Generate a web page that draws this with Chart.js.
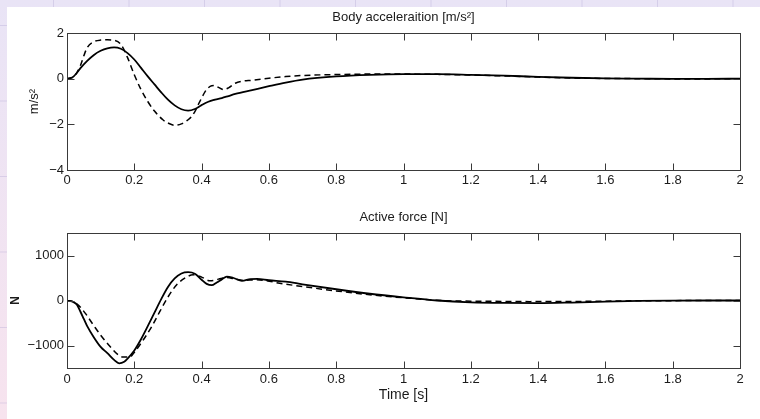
<!DOCTYPE html>
<html>
<head>
<meta charset="utf-8">
<script src="https://cdn.jsdelivr.net/npm/chart.js@4.4.1/dist/chart.umd.min.js"></script>
<style>
  html, body { margin: 0; padding: 0; }
  body {
    width: 760px; height: 419px; position: relative; overflow: hidden;
    background-image:
      linear-gradient(90deg, rgba(175,165,210,0.35) 1px, transparent 1px),
      linear-gradient(rgba(175,165,210,0.35) 1px, transparent 1px),
      linear-gradient(#e9e4f6, #f7e3ee);
    background-size: 75.5px 75.5px, 75.5px 75.5px, 100% 100%;
    background-position: 53px 0, 0 25px, 0 0;
  }
  #panel { position: absolute; left: 7px; top: 7px; width: 753px; height: 412px; background: #fff; }
  canvas { position: absolute; left: 0; }
</style>
</head>
<body>
<div id="panel"></div>
<canvas id="c1" width="760" height="200" style="top:0;width:760px;height:200px"></canvas>
<canvas id="c2" width="760" height="219" style="top:200px;width:760px;height:219px"></canvas>
<script>
// ---------- Data ----------
const accelSolidTime = [0, 0.01, 0.02, 0.03, 0.04, 0.06, 0.08, 0.1, 0.12, 0.14, 0.16, 0.18, 0.2, 0.22, 0.24, 0.26, 0.28, 0.3, 0.32, 0.34, 0.36, 0.38, 0.4, 0.42, 0.44, 0.46, 0.48, 0.5, 0.55, 0.6, 0.65, 0.7, 0.8, 0.9, 1.0, 1.1, 1.2, 1.3, 1.4, 1.5, 1.6, 1.7, 1.8, 1.9, 2.0];
const accelSolid     = [0, 0.02, 0.1, 0.27, 0.46, 0.78, 1.04, 1.22, 1.33, 1.37, 1.31, 1.12, 0.84, 0.47, 0.1, -0.25, -0.6, -0.92, -1.17, -1.34, -1.4, -1.33, -1.16, -1.01, -0.92, -0.85, -0.76, -0.67, -0.5, -0.33, -0.17, -0.04, 0.1, 0.17, 0.2, 0.2, 0.17, 0.13, 0.08, 0.04, 0.01, 0, -0.01, -0.01, 0];

const accelDashedTime = [0, 0.02, 0.03, 0.04, 0.05, 0.06, 0.08, 0.1, 0.12, 0.14, 0.16, 0.18, 0.2, 0.22, 0.24, 0.26, 0.285, 0.3, 0.32, 0.34, 0.36, 0.37, 0.38, 0.39, 0.4, 0.41, 0.42, 0.43, 0.44, 0.45, 0.465, 0.48, 0.5, 0.52, 0.55, 0.6, 0.65, 0.7, 0.8, 0.9, 1.0, 1.1, 1.2, 1.3, 1.4, 1.5, 1.6, 1.7, 1.8, 1.9, 2.0];
const accelDashed     = [0, 0.08, 0.28, 0.58, 1.0, 1.36, 1.62, 1.69, 1.7, 1.68, 1.5, 0.92, 0.17, -0.48, -1.0, -1.42, -1.8, -1.94, -2.04, -1.98, -1.8, -1.66, -1.44, -1.14, -0.85, -0.58, -0.4, -0.31, -0.3, -0.38, -0.48, -0.4, -0.2, -0.11, -0.07, 0.02, 0.09, 0.14, 0.18, 0.2, 0.2, 0.19, 0.16, 0.12, 0.07, 0.03, 0.01, 0, -0.01, -0.01, 0];

const forceSolidTime = [0, 0.02, 0.03, 0.04, 0.05, 0.06, 0.08, 0.1, 0.12, 0.14, 0.155, 0.17, 0.18, 0.2, 0.22, 0.24, 0.26, 0.28, 0.3, 0.32, 0.34, 0.36, 0.38, 0.4, 0.415, 0.43, 0.445, 0.46, 0.475, 0.495, 0.52, 0.545, 0.565, 0.6, 0.65, 0.7, 0.8, 0.9, 1.0, 1.1, 1.2, 1.3, 1.4, 1.5, 1.6, 1.7, 1.8, 1.9, 2.0];
const forceSolid     = [0, -40, -100, -250, -410, -570, -820, -1030, -1170, -1320, -1395, -1360, -1290, -1110, -860, -570, -270, 30, 300, 490, 600, 630, 595, 460, 370, 340, 400, 470, 530, 500, 437, 475, 480, 450, 420, 360, 250, 150, 70, 0, -40, -55, -58, -45, -25, -10, -3, 0, 0];

const forceDashedTime = [0, 0.02, 0.03, 0.04, 0.054, 0.078, 0.103, 0.128, 0.152, 0.167, 0.186, 0.202, 0.227, 0.252, 0.276, 0.301, 0.326, 0.35, 0.375, 0.4, 0.425, 0.45, 0.475, 0.5, 0.52, 0.564, 0.643, 0.79, 0.93, 1.03, 1.128, 1.227, 1.376, 1.525, 1.673, 1.85, 2.0];
const forceDashed     = [0, -30, -80, -150, -280, -540, -800, -1022, -1206, -1258, -1258, -1132, -873, -577, -244, 89, 349, 497, 571, 520, 437, 475, 510, 475, 450, 460, 370, 222, 105, 44, -7, -15, -25, -20, -8, -2, 0];

const xTicks      = [0, 0.2, 0.4, 0.6, 0.8, 1, 1.2, 1.4, 1.6, 1.8, 2];
const xTickLabels = ['0', '0.2', '0.4', '0.6', '0.8', '1', '1.2', '1.4', '1.6', '1.8', '2'];
const accelYTicks      = [-4, -2, 0, 2];
const accelYTickLabels = ['\u22124', '\u22122', '0', '2'];
const forceYTicks      = [-1000, 0, 1000];
const forceYTickLabels = ['\u22121000', '0', '1000'];

// ---------- Helpers ----------
const FONT = "'Liberation Sans', Arial, sans-serif";
const TXT = '#1b1b1b';
const pts = (ts, vs) => ts.map((t, i) => ({ x: t, y: vs[i] }));

const frame = {
  id: 'frame',
  afterDatasetsDraw(chart) {
    const { ctx, chartArea: a } = chart;
    const xs = chart.scales.x, ys = chart.scales.y;
    const L = Math.round(a.left) + 0.5, R = Math.round(a.right) + 0.5;
    const T = Math.round(a.top) + 0.5, B = Math.round(a.bottom) + 0.5;
    const len = 7;
    ctx.save();
    ctx.strokeStyle = '#3a3a3a';
    ctx.lineWidth = 1;
    ctx.beginPath();
    xs.ticks.forEach(t => {
      const p = Math.round(xs.getPixelForValue(t.value)) + 0.5;
      ctx.moveTo(p, B); ctx.lineTo(p, B - len);
      ctx.moveTo(p, T); ctx.lineTo(p, T + len);
    });
    ys.ticks.forEach(t => {
      const p = Math.round(ys.getPixelForValue(t.value)) + 0.5;
      ctx.moveTo(L, p); ctx.lineTo(L + len, p);
      ctx.moveTo(R, p); ctx.lineTo(R - len, p);
    });
    ctx.stroke();
    ctx.strokeRect(L, T, R - L, B - T);
    ctx.restore();
  }
};

function makeChart(canvas, cfg) {
  return new Chart(canvas, {
    type: 'line',
    data: {
      datasets: [
        { data: cfg.solid, borderColor: '#000', borderWidth: 1.8, pointRadius: 0, cubicInterpolationMode: 'monotone', fill: false },
        { data: cfg.dashed, borderColor: '#000', borderWidth: 1.5, borderDash: [6, 4], pointRadius: 0, cubicInterpolationMode: 'monotone', fill: false }
      ]
    },
    options: {
      responsive: false,
      animation: false,
      devicePixelRatio: 1,
      layout: { padding: { left: 0, right: 20, top: 0, bottom: 0 } },
      plugins: {
        legend: { display: false },
        tooltip: { enabled: false },
        title: {
          display: true, text: cfg.title, color: TXT, fullSize: false,
          font: { family: FONT, size: 13, weight: 'normal' },
          padding: { top: 9.7, bottom: 7.7 }
        }
      },
      scales: {
        x: {
          type: 'linear', min: 0, max: 2,
          grid: { display: false, drawTicks: false },
          border: { display: false },
          afterBuildTicks: s => { s.ticks = xTicks.map(v => ({ value: v })); },
          ticks: {
            autoSkip: false, maxRotation: 0, padding: cfg.xPad, color: TXT,
            font: { family: FONT, size: 13 },
            callback: (v) => xTickLabels[xTicks.indexOf(v)]
          },
          title: cfg.xTitle ? {
            display: true, text: cfg.xTitle, color: TXT,
            font: { family: FONT, size: 14 },
            padding: { top: 0, bottom: 15.6 }
          } : { display: false },
          afterFit: s => { s.height = cfg.xHeight; }
        },
        y: {
          type: 'linear', min: cfg.yMin, max: cfg.yMax,
          grid: { display: false, drawTicks: false },
          border: { display: false },
          afterBuildTicks: s => { s.ticks = cfg.yTicks.map(v => ({ value: v })); },
          ticks: {
            autoSkip: false, padding: 3, color: TXT,
            font: { family: FONT, size: 13 },
            callback: (v) => cfg.yLabels[cfg.yTicks.indexOf(v)]
          },
          title: {
            display: true, text: cfg.yTitle, color: TXT,
            font: { family: FONT, size: cfg.yTitleSize, weight: cfg.yTitleWeight },
            padding: { top: cfg.yTitlePad, bottom: 0 }
          },
          afterFit: s => { s.width = 67; }
        }
      }
    },
    plugins: [frame]
  });
}

makeChart(document.getElementById('c1'), {
  title: 'Body acceleraition [m/s\u00B2]',
  solid: pts(accelSolidTime, accelSolid),
  dashed: pts(accelDashedTime, accelDashed),
  yMin: -4, yMax: 2, yTicks: accelYTicks, yLabels: accelYTickLabels,
  yTitle: 'm/s\u00B2', yTitleSize: 13, yTitleWeight: 'normal', yTitlePad: 27,
  xHeight: 30, xPad: 3, xTitle: null
});

makeChart(document.getElementById('c2'), {
  title: 'Active force [N]',
  solid: pts(forceSolidTime, forceSolid),
  dashed: pts(forceDashedTime, forceDashed),
  yMin: -1500, yMax: 1500, yTicks: forceYTicks, yLabels: forceYTickLabels,
  yTitle: 'N', yTitleSize: 12, yTitleWeight: 'bold', yTitlePad: 8,
  xHeight: 51, xPad: 4, xTitle: 'Time [s]'
});
</script>
</body>
</html>
